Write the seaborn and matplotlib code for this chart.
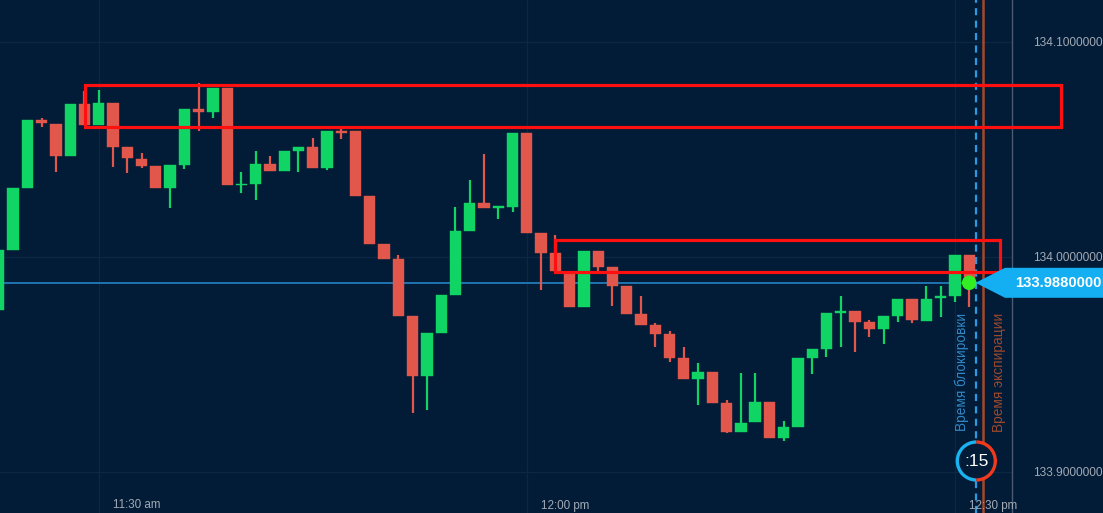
import numpy as np
import pandas as pd
import seaborn as sns
import matplotlib
matplotlib.use("Agg")
import matplotlib.pyplot as plt
from matplotlib.patches import Rectangle, Arc, Circle, Polygon
from matplotlib.transforms import IdentityTransform, blended_transform_factory

# ---------------- data (minutes relative to 11:30) ----------------
minute = list(range(-7, 62))
open_ = [133.97535, 134.00326, 134.03209, 134.06358, 134.06200, 134.04684, 134.07102, 134.06140,
         134.07149, 134.05116, 134.04558, 134.04219, 134.03195, 134.04293, 134.06898, 134.06758,
         134.07860, 134.03335, 134.03395, 134.04312, 134.03986, 134.04944, 134.05116, 134.04126,
         134.05874, 134.05860, 134.02823, 134.00591, 133.99893, 133.97256, 133.94465, 133.96451,
         133.98233, 134.01223, 134.02526, 134.02279, 134.02340, 134.05753, 134.01130, 134.00172,
         133.99316, 133.97651, 134.00279, 133.99526, 133.98642, 133.97335, 133.96823, 133.96405,
         133.95288, 133.94326, 133.94651, 133.93195, 133.91874, 133.92312, 133.93242, 133.91567,
         133.92107, 133.95316, 133.95707, 133.97395, 133.97488, 133.96991, 133.96651, 133.97270,
         133.98033, 133.97037, 133.98107, 133.98200, 134.00093]
close = [134.00326, 134.03209, 134.06372, 134.06247, 134.04684, 134.07102, 134.06126, 134.07149,
         134.05130, 134.04591, 134.04233, 134.03195, 134.04265, 134.06898, 134.06758, 134.07860,
         134.03335, 134.03409, 134.04312, 134.03986, 134.04930, 134.05116, 134.04126, 134.05860,
         134.05781, 134.02837, 134.00591, 133.99893, 133.97256, 133.94465, 133.96451, 133.98233,
         134.01223, 134.02526, 134.02265, 134.02358, 134.05753, 134.01130, 134.00200, 133.99363,
         133.97651, 134.00279, 133.99549, 133.98665, 133.97349, 133.96851, 133.96419, 133.95316,
         133.94326, 133.94637, 133.93223, 133.91874, 133.92293, 133.93242, 133.91567, 133.92093,
         133.95302, 133.95698, 133.97381, 133.97488, 133.96991, 133.96651, 133.97242, 133.98033,
         133.97056, 133.98033, 133.98200, 134.00093, 133.98800]
high = [134.00326, 134.03209, 134.06372, 134.06465, 134.06200, 134.07102, 134.07735, 134.07767,
        134.07149, 134.05116, 134.04823, 134.04219, 134.04265, 134.06898, 134.08107, 134.07860,
        134.07860, 134.03967, 134.04930, 134.04698, 134.04930, 134.05116, 134.05521, 134.05860,
        134.06060, 134.05860, 134.02823, 134.00591, 134.00093, 133.97256, 133.96451, 133.98233,
        134.02326, 134.03581, 134.04777, 134.02358, 134.05753, 134.05753, 134.01130, 134.01023,
        133.99316, 134.00279, 134.00279, 133.99526, 133.98642, 133.98186, 133.96930, 133.96558,
        133.95800, 133.95084, 133.94651, 133.93349, 133.94591, 133.94591, 133.93242, 133.92358,
        133.95302, 133.95698, 133.97381, 133.98186, 133.97488, 133.97070, 133.97242, 133.98033,
        133.98033, 133.98651, 133.98651, 134.00093, 134.00093]
low = [133.97535, 134.00326, 134.03209, 134.06047, 134.03967, 134.04684, 134.06126, 134.06140,
       134.04172, 134.03893, 134.04126, 134.03195, 134.02293, 134.04079, 134.05874, 134.06479,
       134.03335, 134.02991, 134.02651, 134.03986, 134.03986, 134.03940, 134.04126, 134.04033,
       134.05474, 134.02837, 134.00591, 133.99893, 133.97256, 133.92730, 133.92884, 133.96451,
       133.98233, 134.01223, 134.02265, 134.01767, 134.02079, 134.01130, 133.98442, 133.99363,
       133.97651, 133.97651, 133.99358, 133.97735, 133.97349, 133.96851, 133.95800, 133.95116,
       133.94326, 133.93116, 133.93223, 133.91828, 133.91874, 133.92312, 133.91567, 133.91456,
       133.92107, 133.94558, 133.95363, 133.95800, 133.95595, 133.96265, 133.95953, 133.96991,
       133.96916, 133.97037, 133.97195, 133.97921, 133.97660]

current_price = 133.988
price_ticks = [133.9, 134.0, 134.1]
time_ticks = [0, 30, 60]
time_labels = ["11:30 am", "12:00 pm", "12:30 pm"]
lock_minute = 61.5
expiry_minute = 62.0
timer_text = ":15"
zone_upper = (-0.96, 67.4, 134.0605, 134.0800)
zone_lower = (31.98, 63.16, 133.9930, 134.0079)

df = pd.DataFrame({"minute": minute, "open": open_, "close": close, "high": high, "low": low})
df["up"] = df["close"] >= df["open"]

# ---------------- style ----------------
BG = "#021b36"
GREEN = "#10d463"
RED = "#e2574c"
sns.set_theme(style="dark", rc={"axes.facecolor": BG, "figure.facecolor": BG,
                                "savefig.facecolor": BG})
plt.rcParams["font.family"] = ["Liberation Sans", "DejaVu Sans"]

W, H = 1103, 513
fig = plt.figure(figsize=(W / 100, H / 100), dpi=100)
ax = fig.add_axes([0, 0, 1012 / W, 1])
ax.set_facecolor(BG)

ax.set_xlim(-6.917, 64.0)
ax.set_ylim(133.88093, 134.11953)

# grid
for t in time_ticks:
    ax.axvline(t, color="#0c2743", lw=1, zorder=0)
for p in price_ticks:
    ax.axhline(p, color="#0c2743", lw=1, zorder=0)

# candles
colors = np.where(df["up"], GREEN, RED)
ax.vlines(df["minute"], df["low"], df["high"], colors=colors, lw=1.6, zorder=2)
body_bottom = np.minimum(df["open"], df["close"])
body_h = np.maximum(np.abs(df["close"] - df["open"]), 0.0008)
ax.bar(df["minute"], body_h, bottom=body_bottom, width=0.79, color=colors,
       edgecolor=colors, linewidth=0.3, zorder=3)

# current price line
ax.axhline(current_price, color="#1f74b0", lw=1.4, zorder=1)

# lock / expiry lines
ax.axvline(lock_minute, color="#2a9be0", lw=1.6, ls=(0, (3.2, 2.4)), zorder=4)
ax.axvline(expiry_minute, color="#a3482a", lw=1.8, zorder=4)

# current point
sns.scatterplot(x=[minute[-1]], y=[current_price], ax=ax, s=110, color="#33ee22",
                edgecolor="none", zorder=6, legend=False)

# zones (rectangles)
for x0, x1, y0, y1 in (zone_upper, zone_lower):
    ax.add_patch(Rectangle((x0, y0), x1 - x0, y1 - y0, fill=False, edgecolor="#ff1010",
                           lw=2.3, clip_on=False, zorder=7))

# vertical texts
ax.text(60.45, 133.9465, "Время блокировки", rotation=90, color="#2f88c8",
        fontsize=9.8, ha="center", va="center", zorder=5)
ax.text(63.1, 133.9465, "Время экспирации", rotation=90, color="#9c4a2e",
        fontsize=9.8, ha="center", va="center", zorder=5, clip_on=False)

# axis styling
for s in ["top", "left", "bottom"]:
    ax.spines[s].set_visible(False)
ax.spines["right"].set_visible(True)
ax.spines["right"].set_color("#4b5b72")
ax.spines["right"].set_linewidth(1)
ax.yaxis.tick_right()
ax.set_yticks(price_ticks)
ax.set_yticklabels([f"{p:.7f}" for p in price_ticks])
ax.tick_params(axis="y", length=0, pad=15, labelsize=8.6, labelcolor="#a2aab5")
ax.set_xticks([])
ax.grid(False)

# time labels at the bottom edge
tr = blended_transform_factory(ax.transData, ax.transAxes)
for t, lab in zip(time_ticks, time_labels):
    ax.text(t + 1.0, 1.5 / H, lab, transform=tr, color="#a2aab5", fontsize=8.4,
            ha="left", va="bottom", clip_on=False, zorder=5)

# current price label (arrow box)
y_cp = ax.transData.transform((0, current_price))[1]
x_tip = ax.transData.transform((lock_minute - 0.05, 0))[0]
poly = Polygon([(x_tip, y_cp), (1005, y_cp + 15), (W, y_cp + 15), (W, y_cp - 15),
                (1005, y_cp - 15)], closed=True, facecolor="#14aff2", edgecolor="none",
               transform=IdentityTransform(), zorder=8)
fig.add_artist(poly)
fig.text(1015 / W, y_cp / H, f"{current_price:.7f}", color="white", fontsize=10.6,
         fontweight="bold", ha="left", va="center", zorder=9)

# timer circle
cx = ax.transData.transform((lock_minute, 0))[0]
cy = H - 461
fig.add_artist(Circle((cx, cy), 19, facecolor=BG, edgecolor="none",
                      transform=IdentityTransform(), zorder=8))
fig.add_artist(Arc((cx, cy), 38, 38, theta1=90, theta2=270, color="#1ab3f0", lw=2.4,
                   transform=IdentityTransform(), zorder=9))
fig.add_artist(Arc((cx, cy), 38, 38, theta1=270, theta2=90, color="#f03a1e", lw=2.4,
                   transform=IdentityTransform(), zorder=9))
fig.text(cx / W, cy / H, timer_text, color="white", fontsize=12.5, ha="center",
         va="center", zorder=10)

fig.savefig("out.png", dpi=100)
